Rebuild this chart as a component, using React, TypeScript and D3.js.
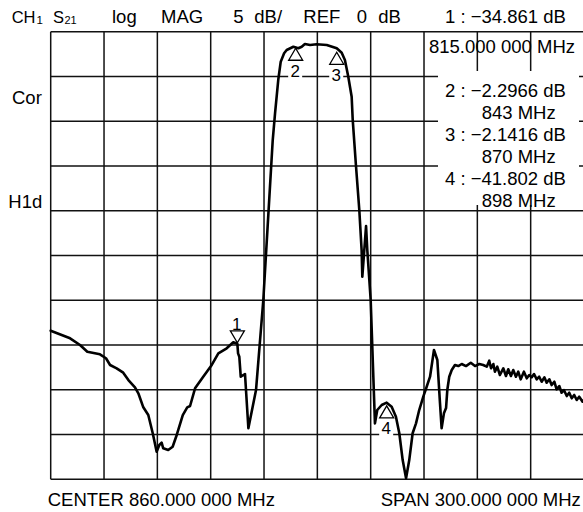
import React from "react";
import * as d3 from "d3";

// ---- data ----
const traceFreq = [
  710, 720.9, 726.5, 730.6, 737.7, 741.1, 743.4, 747.1, 750.8, 753.7, 757.4, 759.3, 762.1, 764.9, 767.4, 769.6,
  771.1, 772.4, 773.3, 776.1, 778.6, 780.9, 784.3, 786.8, 788.4, 791.2, 795.8, 800.6, 804.3, 809.0, 812.7, 815,
  815.4, 816.1, 816.9, 819.3, 821.2, 825.5, 829.6, 834.9, 836.2, 838.0, 839.4, 841.3, 842.75, 846.5, 849.3,
  851.2, 853.0, 855.9, 859.6, 865.3, 870.9, 873.7, 875.5, 877.4, 879.3, 879.9, 881.7, 883.6, 884.9, 885.3,
  887.4, 888.1, 890.0, 892.4, 893.7, 896.2, 899.0, 901.8, 904.2, 906.1, 908.0, 909.9, 911.7, 913.6, 915.5,
  917.3, 919.6, 921.5, 923.4, 925.6, 927.5, 929.0, 929.9, 931.2, 932.4, 933.1, 934.2, 935.6, 937.4, 939.3,
  941.2, 943.6, 946.3, 948.7, 951.1, 953.3, 955.3, 956.7, 957.7, 959.0, 959.9, 961.2, 962.7, 964.6, 966.1,
  967.4, 968.9, 970.2, 971.7, 973.0, 974.4, 976.2, 977.8, 979.2, 980.6, 981.9, 983.4, 984.8, 986.2, 987.7,
  989.0, 990.5, 991.8, 993.3, 994.6, 996.1, 997.4, 998.7, 1000.3, 1001.7, 1003.1, 1004.5, 1005.9, 1007.3,
  1009.2, 1010,
];
const traceDb = [
  -33.4, -34.25, -35.0, -35.75, -36.04, -36.48, -37.23, -37.6, -38.09, -38.91, -39.72, -40.39, -41.96, -42.82, -44.86, -46.92,
  -46.17, -45.91, -46.54, -46.73, -46.36, -45.05, -42.82, -41.96, -41.81, -39.84, -38.54, -37.23, -35.93, -35.37, -34.7, -34.86,
  -35.93, -36.31, -38.54, -38.24, -44.3, -40.03, -29.97, -12.1, -9.12, -5.4, -3.35, -2.41, -2.04, -1.68, -1.85,
  -1.68, -1.37, -1.49, -1.41, -1.49, -1.85, -2.35, -3.16, -5.03, -7.26, -9.86, -14.89, -19.92, -24.39, -27.37,
  -21.71, -24.39, -29.97, -43.75, -42.26, -41.7, -41.44, -41.89, -43.01, -44.86, -47.85, -49.89, -47.85, -44.86, -43.75,
  -42.26, -40.77, -39.66, -38.54, -35.56, -36.67, -41.51, -44.3, -42.63, -42.04, -40.03, -38.54, -37.79, -37.23, -37.35,
  -37.12, -37.35, -36.98, -37.35, -37.12, -37.23, -37.42, -36.75, -37.6, -37.12, -37.98, -37.42, -38.35, -37.6, -38.46,
  -37.71, -38.46, -37.79, -38.54, -37.98, -38.83, -37.98, -38.72, -38.35, -38.61, -38.24, -38.83, -38.54, -39.1, -38.61,
  -39.21, -38.83, -39.47, -39.1, -39.95, -39.58, -40.33, -40.03, -40.7, -40.33, -40.95, -40.58, -41.14, -40.77,
  -41.33, -41.1,
];

const xTicks = [710, 740, 770, 800, 830, 860, 890, 920, 950, 980, 1010];
const yTicks = [0, -5, -10, -15, -20, -25, -30, -35, -40, -45, -50];

const markerIds = ["1", "2", "3", "4"];
const markerFreq = [815, 847.8, 870.9, 899.0];
const markerDb = [-34.75, -1.85, -2.3, -41.8];
const markerDown = [true, false, false, false];

const readoutLines = [
  "2 : \u22122.2966 dB",
  "843 MHz",
  "3 : \u22122.1416 dB",
  "870 MHz",
  "4 : \u221241.802 dB",
  "898 MHz",
];

const FONT = "'Liberation Sans', Arial, Helvetica, sans-serif";

export default function App() {
  const W = 583;
  const H = 512;
  const x = d3.scaleLinear().domain([710, 1010]).range([50.7, 584]);
  const y = d3.scaleLinear().domain([0, -50]).range([31.7, 479.3]);

  const pts: [number, number][] = traceFreq.map((f, i) => [f, traceDb[i]]);
  const line = d3
    .line<[number, number]>()
    .x((d) => x(d[0]))
    .y((d) => y(d[1]));

  const fs = 18.5;
  const txt = { fontFamily: FONT, fontSize: fs, fill: "#000" } as const;

  return (
    <svg
      width={W}
      height={H}
      style={{ position: "absolute", left: 0, top: 0, background: "#fff" }}
    >
      <rect x={0} y={0} width={W} height={H} fill="#fff" />
      {/* grid */}
      <g stroke="#111" strokeWidth={1.5}>
        {xTicks.map((t) => (
          <line key={"v" + t} x1={x(t)} x2={x(t)} y1={y(0)} y2={y(-50)} />
        ))}
        {yTicks.map((t) => (
          <line key={"h" + t} x1={x(710)} x2={x(1010)} y1={y(t)} y2={y(t)} />
        ))}
      </g>

      {/* readout box background */}
      <rect x={438} y={71} width={141} height={134} fill="#fff" />

      {/* header */}
      <g style={txt}>
        <text x={11.7} y={22.5} fontSize={16.5}>CH</text>
        <text x={36.4} y={24} fontSize={11.5}>1</text>
        <text x={53} y={22.5} fontSize={16.5}>S</text>
        <text x={64.5} y={24} fontSize={11}>21</text>
        <text x={112} y={22.5}>log</text>
        <text x={161} y={22.5}>MAG</text>
        <text x={233.3} y={22.5}>5</text>
        <text x={254.3} y={22.5}>dB/</text>
        <text x={303.3} y={22.5}>REF</text>
        <text x={356.7} y={22.5}>0</text>
        <text x={378.3} y={22.5}>dB</text>
        <text x={445} y={22.5}>1 : {"\u2212"}34.861 dB</text>
        <text x={429} y={53.3}>815.000 000 MHz</text>
        <text x={12} y={104}>Cor</text>
        <text x={8.3} y={208}>H1d</text>
        <text x={47.7} y={506}>CENTER 860.000 000 MHz</text>
        <text x={380.7} y={506}>SPAN 300.000 000 MHz</text>
        {readoutLines.map((s, i) => (
          <text key={s} x={i % 2 === 0 ? 445 : 481.7} y={97 + i * 22}>
            {s}
          </text>
        ))}
      </g>

      {/* trace */}
      <path
        d={line(pts) || ""}
        fill="none"
        stroke="#000"
        strokeWidth={2.6}
        strokeLinejoin="round"
        strokeLinecap="round"
      />

      {/* markers */}
      {markerIds.map((id, i) => {
        const mx = x(markerFreq[i]);
        const my = y(markerDb[i]);
        const down = markerDown[i];
        const hw = 7;
        const th = 12;
        const tri = down
          ? `M${mx},${my} L${mx - hw},${my - th} L${mx + hw},${my - th} Z`
          : `M${mx},${my} L${mx - hw},${my + th} L${mx + hw},${my + th} Z`;
        const ly = down ? my - 12.7 : my + 28.5;
        return (
          <g key={id}>
            {!down && (
              <rect x={mx - 7.5} y={ly - 14} width={14} height={16} fill="#fff" />
            )}
            <path d={tri} fill="#fff" stroke="#000" strokeWidth={1.3} />
            <text
              x={mx - 0.5}
              y={ly}
              textAnchor="middle"
              style={{ fontFamily: FONT, fontSize: 17, fill: "#000" }}
            >
              {id}
            </text>
          </g>
        );
      })}
    </svg>
  );
}
